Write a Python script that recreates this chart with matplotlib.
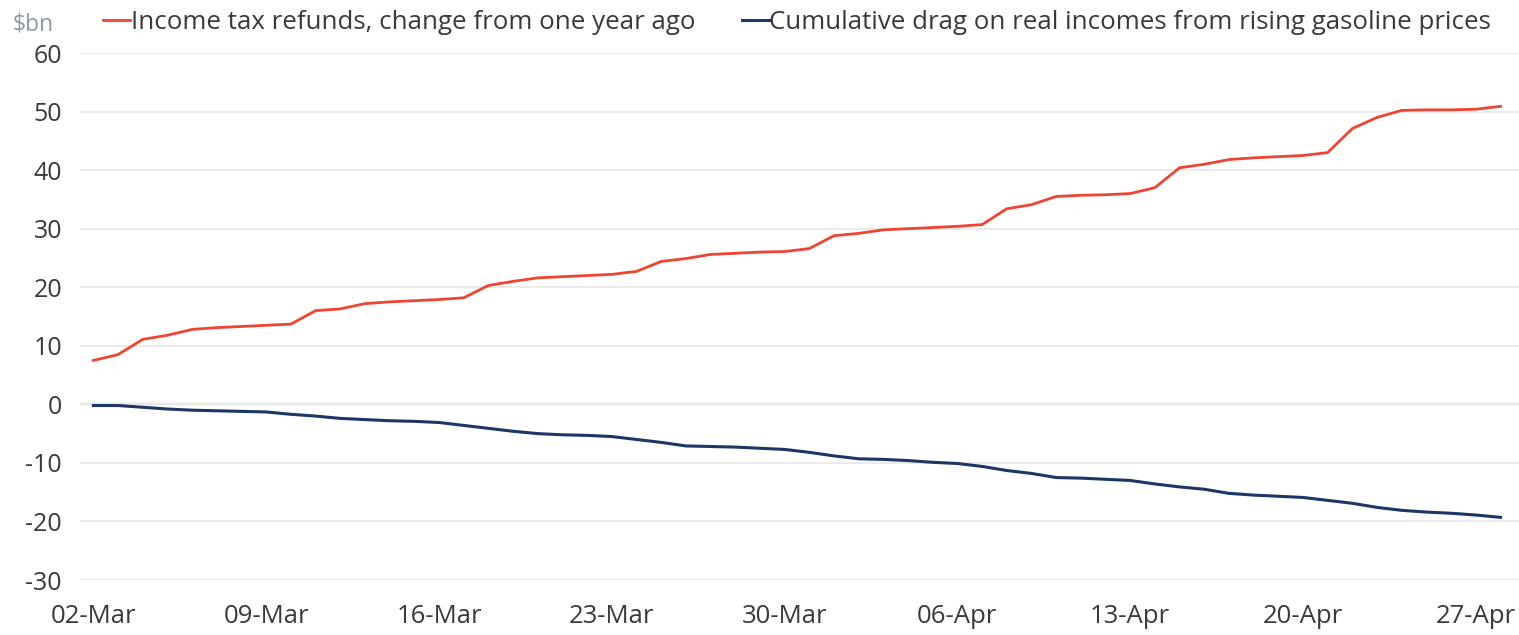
import matplotlib
matplotlib.use("Agg")
import matplotlib.pyplot as plt
import matplotlib.dates as mdates
import pandas as pd

# daily series, 02-Mar to 28-Apr
dates = pd.date_range("2026-03-02", periods=58, freq="D")

refunds = [7.5, 8.5, 11.1, 11.8, 12.8, 13.1, 13.3, 13.5, 13.7, 16.0,
           16.3, 17.2, 17.5, 17.7, 17.9, 18.2, 20.3, 21.0, 21.6, 21.8,
           22.0, 22.2, 22.7, 24.4, 24.9, 25.6, 25.8, 26.0, 26.1, 26.6,
           28.8, 29.2, 29.8, 30.0, 30.2, 30.4, 30.7, 33.4, 34.1, 35.5,
           35.7, 35.8, 36.0, 37.0, 40.4, 41.0, 41.8, 42.1, 42.3, 42.5,
           43.0, 47.1, 49.0, 50.2, 50.3, 50.3, 50.4, 50.9]

gas_drag = [-0.2, -0.2, -0.5, -0.8, -1.0, -1.1, -1.2, -1.3, -1.7, -2.0,
            -2.4, -2.6, -2.8, -2.9, -3.1, -3.6, -4.1, -4.6, -5.0, -5.2,
            -5.3, -5.5, -6.0, -6.5, -7.1, -7.2, -7.3, -7.5, -7.7, -8.2,
            -8.8, -9.3, -9.4, -9.6, -9.9, -10.1, -10.6, -11.3, -11.8, -12.5,
            -12.6, -12.8, -13.0, -13.6, -14.1, -14.5, -15.2, -15.5, -15.7, -15.9,
            -16.4, -16.9, -17.6, -18.1, -18.4, -18.6, -18.9, -19.3]

labels = ["Income tax refunds, change from one year ago",
          "Cumulative drag on real incomes from rising gasoline prices"]
yticks = [-30, -20, -10, 0, 10, 20, 30, 40, 50, 60]

red = "#ee4433"
navy = "#1c3766"
txt = "#3a3a3a"

plt.rcParams["font.family"] = ["Open Sans", "DejaVu Sans"]
plt.rcParams["axes.unicode_minus"] = False

fig = plt.figure(figsize=(15.19, 6.35), dpi=100)
ax = fig.add_axes([0.0527, 0.0866, 0.9473, 0.8299])

ax.plot(dates, refunds, color=red, lw=2.0, label=labels[0], zorder=3)
ax.plot(dates, gas_drag, color=navy, lw=2.2, label=labels[1], zorder=3)

ax.set_ylim(-30, 60)
ax.set_yticks(yticks)
ax.set_xlim(dates[0] - pd.Timedelta(hours=13), dates[-1] + pd.Timedelta(hours=18))

ax.xaxis.set_major_locator(mdates.WeekdayLocator(byweekday=mdates.MO))
ax.xaxis.set_major_formatter(mdates.DateFormatter("%d-%b"))

ax.grid(axis="y", color="#ebebeb", lw=1.4, zorder=0)
ax.axhline(0, color="#a0a0a0", lw=1.6, zorder=1)
for s in ax.spines.values():
    s.set_visible(False)

ax.tick_params(axis="both", length=0, labelsize=18, labelcolor=txt)
ax.tick_params(axis="x", labelsize=18.5, pad=17)
ax.tick_params(axis="y", pad=13)

fig.text(0.008, 0.962, "$bn", fontsize=16.5, color="#8c9aa8", va="center", ha="left")

leg = ax.legend(loc="center left", bbox_to_anchor=(0.0085, 1.058), ncol=2,
                frameon=False, fontsize=18.6, handlelength=1.05,
                handletextpad=0.03, columnspacing=1.8, borderaxespad=0)
for t in leg.get_texts():
    t.set_color(txt)

fig.savefig("out.png", dpi=100)
